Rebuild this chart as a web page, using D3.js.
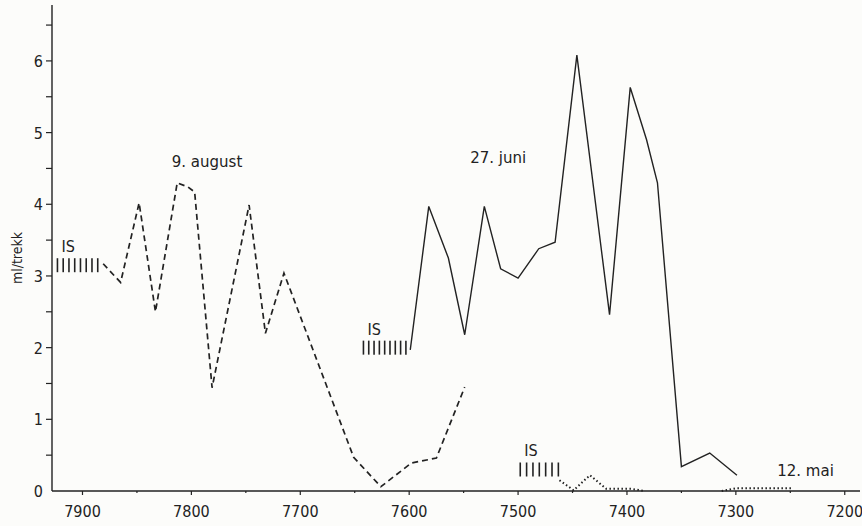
<!DOCTYPE html>
<html>
<head>
<meta charset="utf-8">
<script src="https://cdn.jsdelivr.net/npm/d3@7"></script>
<style>
  html, body { margin: 0; padding: 0; background: #fcfcfa; }
  svg { display: block; font-family: "DejaVu Sans Condensed", "DejaVu Sans", sans-serif; }
</style>
</head>
<body>
<div id="chart"></div>
<script>
// 9. august (dashed)
const augustX = [7881, 7865, 7848, 7833, 7813, 7803, 7797, 7781, 7747, 7732, 7715, 7651, 7626, 7598, 7575, 7549];
const augustY = [3.17, 2.91, 4.02, 2.50, 4.30, 4.24, 4.17, 1.44, 3.99, 2.20, 3.04, 0.47, 0.06, 0.39, 0.46, 1.45];

// 27. juni (solid)
const juniX = [7599, 7582, 7564, 7549, 7531, 7516, 7500, 7481, 7466, 7446, 7416, 7397, 7382, 7372, 7350, 7324, 7299];
const juniY = [1.97, 3.97, 3.25, 2.18, 3.97, 3.10, 2.97, 3.38, 3.47, 6.08, 2.46, 5.63, 4.90, 4.30, 0.34, 0.53, 0.22];

// 12. mai (dotted), null = gap
const maiX = [7462, 7449, 7434, 7419, 7396, 7384, 7340, 7313, 7299, 7249];
const maiY = [0.15, 0.01, 0.22, 0.03, 0.03, 0.00, null, 0.00, 0.04, 0.04];

// ice ("IS") hatch zones: x from, x to, centre value, count
const iceFrom = [7923, 7642, 7498];
const iceTo = [7886, 7603, 7463];
const iceMid = [3.15, 2.0, 0.30];
const iceCount = [8, 9, 7];

const xTicks = [7900, 7800, 7700, 7600, 7500, 7400, 7300, 7200];
const yTicks = [0, 1, 2, 3, 4, 5, 6];

function draw() {
    const width = 862, height = 526;
    const margin = { top: 5, right: 2, bottom: 35, left: 52 };

    const svg = d3.select("#chart").append("svg")
        .attr("width", width)
        .attr("height", height);

    const x = d3.scaleLinear()
        .domain([7928, 7186])
        .range([margin.left, width - margin.right]);

    const y = d3.scaleLinear()
        .domain([0, 6.78])
        .range([height - margin.bottom, margin.top]);

    const ink = "#222";
    const y0 = y(0);

    // axes
    svg.append("line")
        .attr("x1", margin.left).attr("x2", width - margin.right)
        .attr("y1", y0).attr("y2", y0)
        .attr("stroke", ink).attr("stroke-width", 1.4);
    svg.append("line")
        .attr("x1", margin.left).attr("x2", margin.left)
        .attr("y1", y0).attr("y2", margin.top)
        .attr("stroke", ink).attr("stroke-width", 1.4);

    // x ticks: major every 100, minor every 50
    svg.append("g").selectAll("line")
        .data(d3.range(7200, 7950, 50))
        .join("line")
        .attr("x1", d => x(d)).attr("x2", d => x(d))
        .attr("y1", y0).attr("y2", d => y0 + (d % 100 === 0 ? 4 : 2))
        .attr("stroke", ink).attr("stroke-width", 1.2);

    svg.append("g").selectAll("text")
        .data(xTicks)
        .join("text")
        .attr("x", d => x(d))
        .attr("y", y0 + 26)
        .attr("text-anchor", "middle")
        .attr("font-size", 16)
        .attr("fill", ink)
        .text(d => d);

    // y ticks: major every 1, minor every 0.5
    svg.append("g").selectAll("line")
        .data(d3.range(0.5, 6.6, 0.5))
        .join("line")
        .attr("x1", margin.left).attr("x2", margin.left - 6)
        .attr("y1", d => y(d)).attr("y2", d => y(d))
        .attr("stroke", ink).attr("stroke-width", 1.2);

    svg.append("g").selectAll("text")
        .data(yTicks)
        .join("text")
        .attr("x", margin.left - 9)
        .attr("y", d => y(d) + 6)
        .attr("text-anchor", "end")
        .attr("font-size", 16)
        .attr("fill", ink)
        .text(d => d);

    svg.append("text")
        .attr("transform", `translate(22,${y(3.25)}) rotate(-90)`)
        .attr("text-anchor", "middle")
        .attr("font-size", 14)
        .attr("fill", ink)
        .text("ml/trekk");

    // lines
    const line = d3.line()
        .defined(d => d[1] !== null)
        .x(d => x(d[0]))
        .y(d => y(d[1]));

    svg.append("path")
        .datum(augustX.map((d, i) => [d, augustY[i]]))
        .attr("d", line)
        .attr("fill", "none").attr("stroke", ink)
        .attr("stroke-width", 1.7).attr("stroke-dasharray", "6,4");

    svg.append("path")
        .datum(juniX.map((d, i) => [d, juniY[i]]))
        .attr("d", line)
        .attr("fill", "none").attr("stroke", ink)
        .attr("stroke-width", 1.4);

    svg.append("path")
        .datum(maiX.map((d, i) => [d, maiY[i]]))
        .attr("d", line)
        .attr("fill", "none").attr("stroke", ink)
        .attr("stroke-width", 2).attr("stroke-dasharray", "1.5,2.5");

    // ice hatches
    iceFrom.forEach((from, k) => {
        const n = iceCount[k];
        const step = (iceTo[k] - from) / (n - 1);
        const g = svg.append("g");
        g.selectAll("line")
            .data(d3.range(n).map(i => from + i * step))
            .join("line")
            .attr("x1", d => x(d)).attr("x2", d => x(d))
            .attr("y1", y(iceMid[k]) - 7).attr("y2", y(iceMid[k]) + 7)
            .attr("stroke", ink).attr("stroke-width", 1.6);
        g.append("text")
            .attr("x", x(from) + 4)
            .attr("y", y(iceMid[k]) - 13)
            .attr("font-size", 16)
            .attr("fill", ink)
            .text("IS");
    });

    // date labels
    const labels = [
        { text: "9. august", d: 7818, v: 4.52 },
        { text: "27. juni", d: 7544, v: 4.57 },
        { text: "12. mai", d: 7262, v: 0.21 }
    ];
    svg.append("g").selectAll("text")
        .data(labels)
        .join("text")
        .attr("x", d => x(d.d))
        .attr("y", d => y(d.v))
        .attr("font-size", 15)
        .attr("font-family", "DejaVu Sans, sans-serif")
        .attr("fill", ink)
        .text(d => d.text);
}

draw();
</script>
</body>
</html>
